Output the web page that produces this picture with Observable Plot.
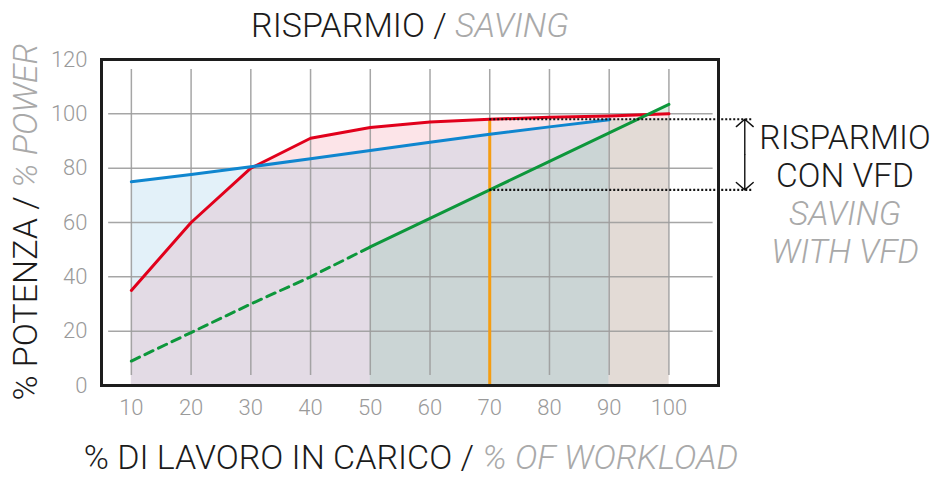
<!DOCTYPE html>
<html><head><meta charset="utf-8">
<script src="https://cdn.jsdelivr.net/npm/d3@7"></script>
<script src="https://cdn.jsdelivr.net/npm/@observablehq/plot@0.6"></script>
<style>
body{margin:0;background:#fff;}
#wrap{position:relative;width:931px;height:477px;overflow:hidden;background:#fff;}
#wrap svg{position:absolute;left:0;top:0;}
</style></head><body><div id="wrap"></div>
<script>
// ---- data ----
const load = [10, 20, 30, 40, 50, 60, 70, 80, 90, 100];          // % of workload
const powerThrottle = [35, 60, 80, 91, 95, 97, 98, 98.7, 99.2, 100]; // red
const powerBypass = [75, 77.7, 80.5, 83.5, 86.5, 89.5, 92.5, 95.2, 97.8]; // blue (10..90)
const powerVFD = [9, 19.5, 30, 40, 51, 61.5, 72, 82.5, 93, 103.5];  // green
const beigeLoad = [90, 100];
const beigeTop = [97.8, 98.2];
const xTicks = [10, 20, 30, 40, 50, 60, 70, 80, 90, 100];
const yTicks = [0, 20, 40, 60, 80, 100, 120];
const gridY = [20, 40, 60, 80, 100];
const operatingLoad = 70;
const dashedUntil = 50;
const vfdAreaFrom = 50;

const titleIt = "RISPARMIO / ", titleEn = "SAVING";
const xTitleIt = "% DI LAVORO IN CARICO / ", xTitleEn = "% OF WORKLOAD";
const yTitleIt = "% POTENZA / ", yTitleEn = "% POWER";
const noteLines = [["RISPARMIO", false], ["CON VFD", false], ["SAVING", true], ["WITH VFD", true]];

// ---- table ----
const rows = load.map((x, i) => ({
  x, red: powerThrottle[i], blue: i < powerBypass.length ? powerBypass[i] : null, green: powerVFD[i]
}));
const beige = beigeLoad.map((x, i) => ({x, top: beigeTop[i]}));
const iOp = load.indexOf(operatingLoad);
const redOp = powerThrottle[iOp], greenOp = powerVFD[iOp];

const dark = "#1b1b1b", grey = "#a9a9a9";

const plot = Plot.plot({
  width: 931, height: 477,
  marginLeft: 101, marginRight: 213, marginTop: 59, marginBottom: 92,
  x: {domain: [5, 108.3]},
  y: {domain: [0, 120]},
  style: {fontFamily: "Roboto, 'Liberation Sans', sans-serif", fontWeight: 300, background: "#fff", overflow: "visible"},
  marks: [
    Plot.areaY(rows.filter(d => d.x >= 90), {x: "x", y1: 0, y2: "green", fill: "#dff0e4"}),
    Plot.areaY(rows, {x: "x", y1: 0, y2: "red", fill: "#fce4e8"}),
    Plot.areaY(rows.filter(d => d.x <= 30), {x: "x", y1: "red", y2: "blue", fill: "#e3f1f9"}),
    Plot.areaY(rows.filter(d => d.blue != null), {x: "x", y1: 0, y2: d => Math.min(d.red, d.blue), fill: "#e3dbe5"}),
    Plot.areaY(rows.filter(d => d.x >= vfdAreaFrom && d.blue != null), {x: "x", y1: 0, y2: "green", fill: "#cbd5d5"}),
    Plot.areaY(beige, {x: "x", y1: 0, y2: "top", fill: "#e3dbd6"}),
    // grid
    Plot.ruleY(gridY, {x1: 6.2, x2: 107.4, stroke: "#9c9c9c", strokeWidth: 1.5, strokeOpacity: 0.9}),
    Plot.ruleX(xTicks, {y1: 3.7, y2: 116.3, stroke: "#9c9c9c", strokeWidth: 1.5, strokeOpacity: 0.9}),
    // operating point
    Plot.ruleX([operatingLoad], {y1: 0, y2: redOp, stroke: "#f59d12", strokeWidth: 3}),
    // curves
    Plot.line(rows, {x: "x", y: "red", stroke: "#e1001b", strokeWidth: 3}),
    Plot.line(rows.filter(d => d.blue != null), {x: "x", y: "blue", stroke: "#0f86cf", strokeWidth: 3}),
    Plot.line(rows.filter(d => d.x <= dashedUntil), {x: "x", y: "green", stroke: "#0d973b", strokeWidth: 3, strokeDasharray: "9,6"}),
    Plot.line(rows.filter(d => d.x >= dashedUntil), {x: "x", y: "green", stroke: "#0d973b", strokeWidth: 3}),
    // saving markers
    Plot.ruleY([redOp, greenOp], {x1: operatingLoad, x2: 114.1, stroke: "#111", strokeWidth: 2.2, strokeDasharray: "2,2"}),
    Plot.arrow([{a: (redOp + greenOp) / 2, b: redOp}, {a: (redOp + greenOp) / 2, b: greenOp}],
      {x1: 112.7, x2: 112.7, y1: "a", y2: "b", stroke: "#111", strokeWidth: 1.4, headLength: 12, headAngle: 98}),
    Plot.frame({stroke: "#1d1d1d", strokeWidth: 3}),
    Plot.axisX(xTicks, {tickSize: 0, tickPadding: 14, fontSize: 22, color: "#9a9a9a", label: null}),
    Plot.axisY(yTicks, {tickSize: 0, tickPadding: 14, fontSize: 22, color: "#9a9a9a", label: null})
  ]
});
const wrap = document.getElementById("wrap");
wrap.appendChild(plot);

// ---- titles overlay ----
const ns = "http://www.w3.org/2000/svg";
const ov = document.createElementNS(ns, "svg");
ov.setAttribute("width", 931); ov.setAttribute("height", 477);
ov.style.fontFamily = "Roboto, 'Liberation Sans', sans-serif";
ov.style.fontWeight = 300;
wrap.appendChild(ov);
function twoTone(x, y, size, a, b, transform) {
  const t = document.createElementNS(ns, "text");
  t.setAttribute("x", x); t.setAttribute("y", y);
  t.setAttribute("text-anchor", "middle");
  t.setAttribute("font-size", size);
  if (transform) t.setAttribute("transform", transform);
  const s1 = document.createElementNS(ns, "tspan"); s1.textContent = a; s1.setAttribute("fill", dark);
  const s2 = document.createElementNS(ns, "tspan"); s2.textContent = b; s2.setAttribute("fill", grey); s2.setAttribute("font-style", "italic");
  t.appendChild(s1); t.appendChild(s2); ov.appendChild(t);
  return t;
}
twoTone(410, 36.5, 34, titleIt, titleEn);
twoTone(411, 469, 34, xTitleIt, xTitleEn);
twoTone(0, 0, 34, yTitleIt, yTitleEn, "translate(37,222) rotate(-90)");
const baselines = [148.5, 187, 225, 263];
noteLines.forEach(([s, it], i) => {
  const t = document.createElementNS(ns, "text");
  t.setAttribute("x", 845); t.setAttribute("y", baselines[i]);
  t.setAttribute("text-anchor", "middle"); t.setAttribute("font-size", 33.5);
  t.setAttribute("fill", it ? grey : dark);
  if (it) t.setAttribute("font-style", "italic");
  t.textContent = s; ov.appendChild(t);
});
</script></body></html>
